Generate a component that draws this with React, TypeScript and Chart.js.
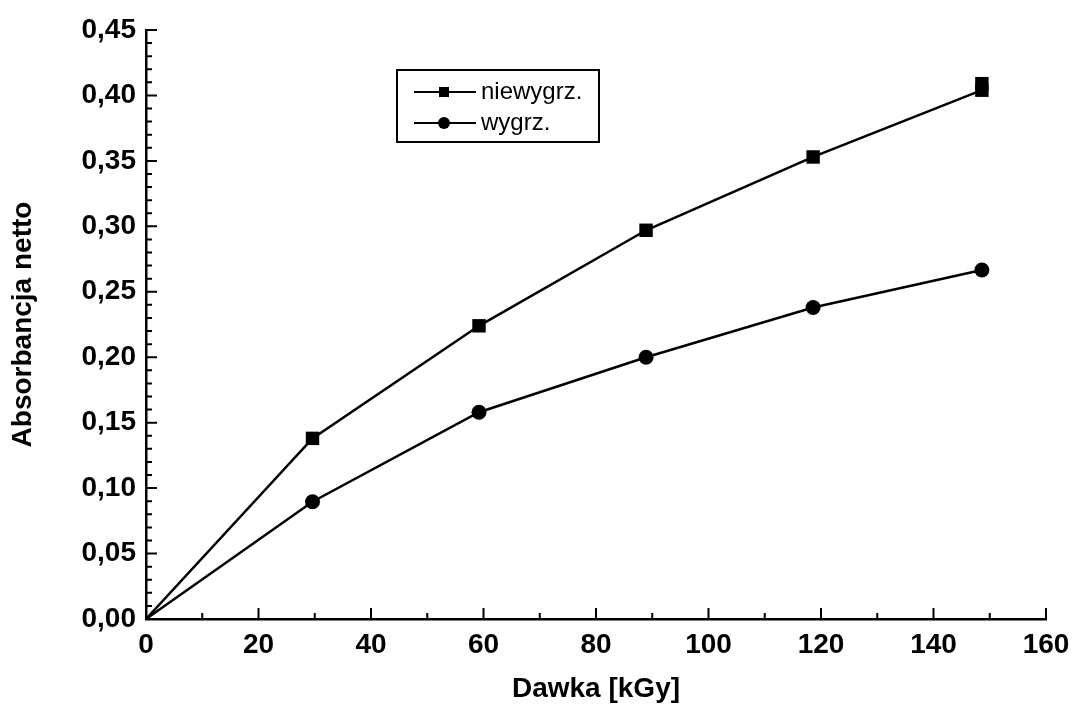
import React, { useEffect, useRef } from "react";
import { Chart, registerables } from "chart.js";

Chart.register(...registerables);

// ---- data ----
const doseKGy = [0, 29.6, 59.2, 88.9, 118.6, 148.6];
const niewygrzValues = [0, 0.138, 0.224, 0.297, 0.353, 0.404];
const wygrzValues = [0, 0.0896, 0.158, 0.2, 0.238, 0.2666];
const niewygrzRepeatX = [148.6];
const niewygrzRepeatY = [0.409];

const seriesLabels = ["niewygrz.", "wygrz."];
const xTitle = "Dawka [kGy]";
const yTitle = "Absorbancja netto";

const xMin = 0, xMax = 160, xMajor = 20, xMinor = 10;
const yMin = 0, yMax = 0.45, yMajor = 0.05, yMinor = 0.01;

const FONT = "'Liberation Sans', Arial, Helvetica, sans-serif";

const toPoints = (xs: number[], ys: number[]) => xs.map((x, i) => ({ x, y: ys[i] }));

const inwardTicks = {
  id: "inwardTicks",
  afterDatasetsDraw(chart: any) {
    const { ctx, chartArea, scales } = chart;
    const { left, bottom } = chartArea;
    const x = scales.x, y = scales.y;
    ctx.save();
    ctx.strokeStyle = "#000";
    ctx.lineWidth = 2;
    ctx.beginPath();
    const nx = Math.round((xMax - xMin) / xMinor);
    for (let i = 0; i <= nx; i++) {
      const v = xMin + i * xMinor;
      const px = x.getPixelForValue(v);
      const major = i % Math.round(xMajor / xMinor) === 0;
      ctx.moveTo(px, bottom);
      ctx.lineTo(px, bottom - (major ? 11 : 6));
    }
    const ny = Math.round((yMax - yMin) / yMinor);
    for (let i = 0; i <= ny; i++) {
      const v = yMin + i * yMinor;
      const py = y.getPixelForValue(v);
      const major = i % Math.round(yMajor / yMinor) === 0;
      ctx.moveTo(left, py);
      ctx.lineTo(left + (major ? 11 : 6), py);
    }
    ctx.stroke();
    ctx.restore();
  },
};

const boxLegend = {
  id: "boxLegend",
  afterDraw(chart: any) {
    const { ctx, chartArea } = chart;
    const bx = chartArea.left + 251;
    const by = chartArea.top + 40;
    const bw = 202;
    const bh = 72;
    ctx.save();
    ctx.fillStyle = "#fff";
    ctx.fillRect(bx, by, bw, bh);
    ctx.strokeStyle = "#000";
    ctx.lineWidth = 2;
    ctx.strokeRect(bx, by, bw, bh);
    const rows = [by + 22, by + 53];
    rows.forEach((ry, i) => {
      ctx.lineWidth = 2;
      ctx.beginPath();
      ctx.moveTo(bx + 17, ry);
      ctx.lineTo(bx + 79, ry);
      ctx.stroke();
      ctx.fillStyle = "#000";
      const cx = bx + 47;
      if (i === 0) {
        ctx.fillRect(cx - 5, ry - 5, 10, 10);
      } else {
        ctx.beginPath();
        ctx.arc(cx, ry, 6, 0, Math.PI * 2);
        ctx.fill();
      }
      ctx.font = `24px ${FONT}`;
      ctx.textBaseline = "middle";
      ctx.textAlign = "left";
      ctx.fillText(seriesLabels[i], bx + 84, ry);
    });
    ctx.restore();
  },
};

export default function App() {
  const ref = useRef<HTMLCanvasElement | null>(null);
  useEffect(() => {
    if (!ref.current) return;
    const chart = new Chart(ref.current, {
      type: "scatter",
      data: {
        datasets: [
          {
            label: seriesLabels[0],
            data: toPoints(doseKGy, niewygrzValues),
            showLine: true,
            borderColor: "#000",
            borderWidth: 2.5,
            backgroundColor: "#000",
            pointStyle: "rect",
            pointRadius: doseKGy.map((_, i) => (i === 0 ? 0 : 9.5)),
            pointBorderWidth: 0,
            pointBackgroundColor: "#000",
            tension: 0,
          },
          {
            label: seriesLabels[0] + " (2)",
            data: toPoints(niewygrzRepeatX, niewygrzRepeatY),
            showLine: false,
            backgroundColor: "#000",
            borderColor: "#000",
            pointStyle: "rect",
            pointRadius: 9.5,
            pointBorderWidth: 0,
          },
          {
            label: seriesLabels[1],
            data: toPoints(doseKGy, wygrzValues),
            showLine: true,
            borderColor: "#000",
            borderWidth: 2.5,
            backgroundColor: "#000",
            pointStyle: "circle",
            pointRadius: doseKGy.map((_, i) => (i === 0 ? 0 : 7.5)),
            pointBorderWidth: 0,
            pointBackgroundColor: "#000",
            tension: 0,
          },
        ],
      },
      options: {
        animation: false,
        responsive: false,
        maintainAspectRatio: false,
        layout: { padding: { left: 0, right: 28, top: 30, bottom: 0 } },
        plugins: {
          legend: { display: false },
          tooltip: { enabled: false },
        },
        scales: {
          x: {
            type: "linear",
            min: xMin,
            max: xMax,
            border: { display: true, color: "#000", width: 2.5 },
            grid: { display: false, drawTicks: false },
            ticks: {
              stepSize: xMajor,
              color: "#000",
              padding: 9,
              font: { family: FONT, size: 28, weight: "bold" },
            },
            title: {
              display: true,
              text: xTitle,
              color: "#000",
              font: { family: FONT, size: 28, weight: "bold" },
              padding: { top: 0, bottom: 0 },
            },
            afterFit(scale: any) {
              scale.height = 87;
              scale.paddingRight = 0;
              scale.paddingLeft = 0;
            },
          },
          y: {
            type: "linear",
            min: yMin,
            max: yMax,
            border: { display: true, color: "#000", width: 2.5 },
            grid: { display: false, drawTicks: false },
            ticks: {
              stepSize: yMajor,
              color: "#000",
              padding: 10,
              font: { family: FONT, size: 28, weight: "bold" },
              callback: (v: any) => Number(v).toFixed(2).replace(".", ","),
            },
            title: {
              display: true,
              text: yTitle,
              color: "#000",
              font: { family: FONT, size: 28, weight: "bold" },
              padding: { top: 6, bottom: 0 },
            },
            afterFit(scale: any) {
              scale.width = 146;
              scale.paddingTop = 0;
              scale.paddingBottom = 0;
            },
          },
        },
      },
      plugins: [inwardTicks, boxLegend],
    });
    return () => chart.destroy();
  }, []);
  return (
    <div style={{ position: "absolute", left: 0, top: 0, width: 1074, height: 706, background: "#fff" }}>
      <canvas ref={ref} width={1074} height={706} style={{ width: 1074, height: 706, display: "block" }} />
    </div>
  );
}
